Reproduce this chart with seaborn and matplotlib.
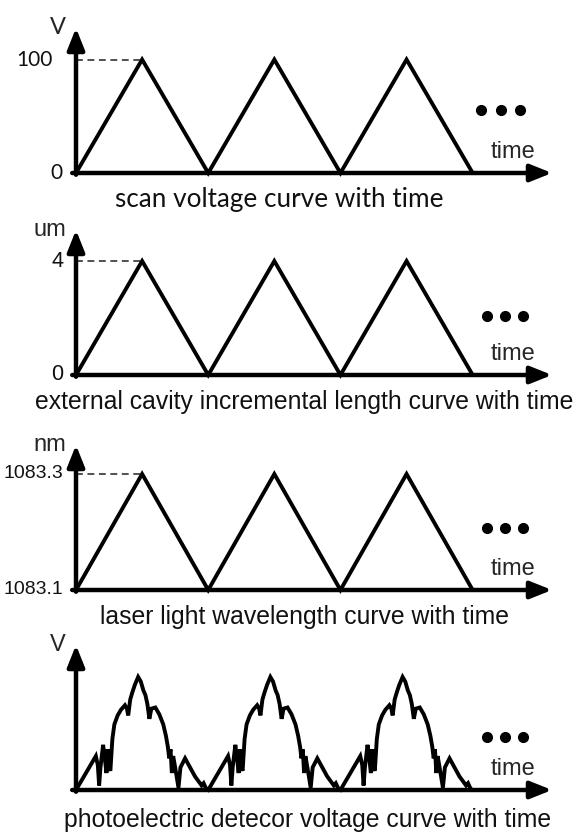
import matplotlib
matplotlib.use("Agg")
import numpy as np
import pandas as pd
import matplotlib.pyplot as plt
import seaborn as sns
from matplotlib.transforms import blended_transform_factory

# time in half-periods of the scan
cycle_t = [0, 1, 2, 3, 4, 5, 6]
scan_voltage = [0, 100, 0, 100, 0, 100, 0]
cavity_length = [0, 4, 0, 4, 0, 4, 0]
wavelength = [1083.1, 1083.3, 1083.1, 1083.3, 1083.1, 1083.3, 1083.1]

# one hump of the detector signal (relative voltage)
hump_t = [0.00, 0.30, 0.33, 0.35, 0.37, 0.41, 0.44, 0.46, 0.48, 0.50, 0.52,
          0.55, 0.58, 0.63, 0.68, 0.74, 0.77, 0.79, 0.82, 0.85, 0.89, 0.94,
          0.98, 1.02, 1.05, 1.08, 1.11, 1.14, 1.20, 1.26, 1.32, 1.36, 1.39,
          1.41, 1.43, 1.45, 1.47, 1.50, 1.55, 1.58, 1.65, 1.80, 1.90, 1.93,
          1.97]
hump_v = [0.00, 0.30, 0.22, 0.04, 0.20, 0.40, 0.26, 0.15, 0.36, 0.20, 0.17,
          0.45, 0.58, 0.66, 0.71, 0.75, 0.72, 0.66, 0.80, 0.86, 0.93, 1.00,
          0.96, 0.88, 0.84, 0.76, 0.63, 0.72, 0.73, 0.67, 0.58, 0.48, 0.38,
          0.28, 0.36, 0.15, 0.30, 0.20, 0.02, 0.20, 0.28, 0.12, 0.04, 0.06,
          0.01]
n_humps = 3
detector_t = [t + 2 * k for k in range(n_humps) for t in hump_t] + [6.0]
detector_v = hump_v * n_humps + [0.0]

panels = [
    dict(t=cycle_t, y=scan_voltage, ylim=(0, 127.8),
         ticks=[(100, "100", -0.050), (0, "0", -0.029)], tick_size=15,
         unit="V", peak=100, caption="scan voltage curve with time",
         font="Lato", cap_size=18.8, base=173, cap_x=279, cap_y=200,
         dots_x=[0.851, 0.893, 0.933], dots_y=0.434),
    dict(t=cycle_t, y=cavity_length, ylim=(0, 5.09),
         ticks=[(4, "4", -0.027), (0, "0", -0.027)], tick_size=15.5,
         unit="um", peak=4,
         caption="external cavity incremental length curve with time",
         font="Liberation Sans", cap_size=17.8, base=375, cap_x=304, cap_y=402,
         dots_x=[0.863, 0.901, 0.939], dots_y=0.407),
    dict(t=cycle_t, y=wavelength, ylim=(1083.1, 1083.35),
         ticks=[(1083.3, "1083.3", -0.027), (1083.1, "1083.1", -0.027)],
         tick_size=14, unit="nm", peak=1083.3,
         caption="laser light wavelength curve with time",
         font="Liberation Sans", cap_size=17.8, base=590, cap_x=305, cap_y=617,
         dots_x=[0.863, 0.901, 0.939], dots_y=0.428),
    dict(t=detector_t, y=detector_v, ylim=(0, 1.283), ticks=[], tick_size=15,
         unit="V", peak=None,
         caption="photoelectric detecor voltage curve with time",
         font="Liberation Sans", cap_size=17.8, base=790, cap_x=308, cap_y=820,
         dots_x=[0.863, 0.901, 0.939], dots_y=0.366),
]

sns.set_style("white")
plt.rcParams["font.family"] = ["Liberation Sans", "DejaVu Sans"]

W, H = 576, 832
fig = plt.figure(figsize=(W / 100, H / 100), dpi=100)

for p in panels:
    ax = fig.add_axes([76 / W, 1 - p["base"] / H, 476 / W, 145 / H])
    ax.set_xlim(0, 7.2)
    ax.set_ylim(*p["ylim"])

    df = pd.DataFrame({"t": p["t"], "y": p["y"]})
    sns.lineplot(data=df, x="t", y="y", ax=ax, color="black", linewidth=2.8,
                 estimator=None, sort=False)
    for ln in ax.lines:
        ln.set_clip_on(False)
        ln.set_solid_joinstyle("miter")

    if p["peak"] is not None:
        ax.plot([0, 1], [p["peak"], p["peak"]], color="#222222", lw=1.1,
                ls=(0, (4.5, 3)), clip_on=False)

    # axes drawn as arrows
    arrow = dict(arrowstyle="-|>,head_length=1.0,head_width=0.4", lw=3.2,
                 color="black", mutation_scale=13, shrinkA=0, shrinkB=0)
    ax.annotate("", xy=(0, 1), xytext=(0, -0.012), xycoords="axes fraction",
                arrowprops=arrow, annotation_clip=False)
    ax.annotate("", xy=(1, 0), xytext=(-0.008, 0), xycoords="axes fraction",
                arrowprops=arrow, annotation_clip=False)

    sns.despine(ax=ax, left=True, bottom=True)
    ax.set_xticks([])
    ax.set_yticks([])
    ax.set_xlabel("")
    ax.set_ylabel("")

    # tick labels at data heights, left of the axis
    trans = blended_transform_factory(ax.transAxes, ax.transData)
    for val, lab, xoff in p["ticks"]:
        ax.text(xoff, val, lab, transform=trans, ha="right", va="center",
                fontsize=p["tick_size"], family=p["font"], color="#111111",
                clip_on=False)

    ax.text(-0.021, 1.0, p["unit"], transform=ax.transAxes, ha="right",
            va="center", fontsize=17, family=p["font"])

    # continuation dots and axis name
    ax.plot(p["dots_x"], [p["dots_y"]] * 3, "o", color="black",
            ms=7, transform=ax.transAxes, clip_on=False)
    ax.text(0.918, 0.145, "time", transform=ax.transAxes, ha="center",
            va="center", fontsize=17)

    fig.text(p["cap_x"] / W, 1 - p["cap_y"] / H, p["caption"], ha="center",
             va="center", fontsize=p["cap_size"], family=p["font"],
             color="#111111")

fig.savefig("out.png", dpi=100)
